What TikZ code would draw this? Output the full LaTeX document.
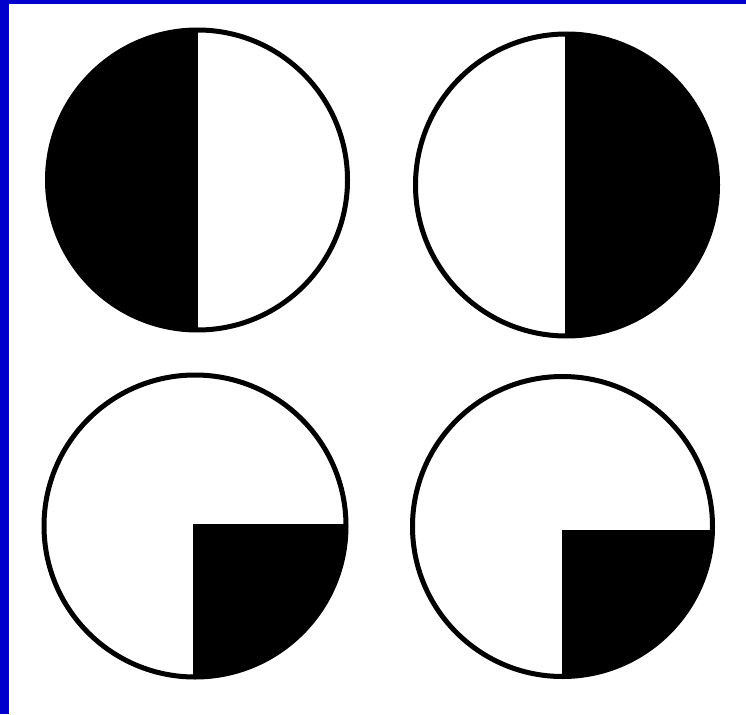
\documentclass[tikz,border=0pt]{standalone}
\usepackage{tikz}
\definecolor{frameblue}{RGB}{0,0,204}
\tikzset{rim/.style={draw=black,line width=5pt}}

\begin{document}
\begin{tikzpicture}[x=1pt,y=-1pt]
\fill[frameblue] (0,0) rectangle (746,714);
\fill[white] (9,4) rectangle (746,714);
\coordinate (TL) at (197.5,180);
\coordinate (TR) at (566.5,185);
\coordinate (BL) at (195,526);
\coordinate (BR) at (562.5,526.5);

% top row: halves
\begin{scope}
  \clip (TL) circle[radius=150pt];
  \fill (47,20) rectangle (198,340);
\end{scope}
\begin{scope}
  \clip (TR) circle[radius=151pt];
  \fill (565,20) rectangle (730,345);
\end{scope}

% bottom row: quarters
\begin{scope}
  \clip (BL) circle[radius=151pt];
  \fill (193,524) rectangle (360,690);
\end{scope}
\begin{scope}
  \clip (BR) circle[radius=150pt];
  \fill (562,530) rectangle (725,690);
\end{scope}

\draw[rim] (TL) circle[radius=150pt];
\draw[rim] (TR) circle[radius=151pt];
\draw[rim] (BL) circle[radius=151pt];
\draw[rim] (BR) circle[radius=150pt];
\end{tikzpicture}
\end{document}
